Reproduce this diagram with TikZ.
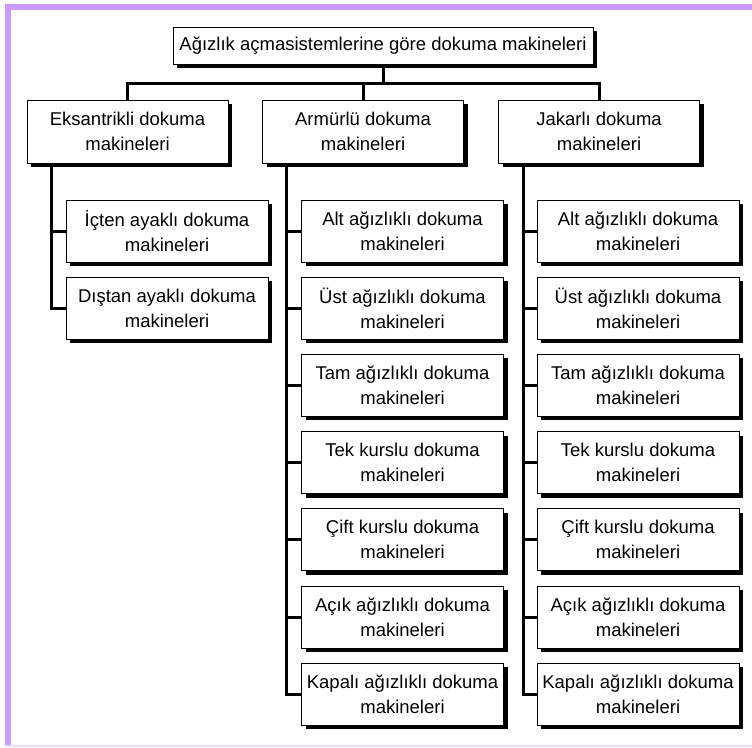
\documentclass[tikz,border=0pt]{standalone}
\usepackage{fontspec}
\setmainfont{Liberation Sans}
\usetikzlibrary{positioning,shadows}
\definecolor{framepurple}{RGB}{204,153,255}
\definecolor{framelight}{RGB}{236,220,255}
\tikzset{
	box/.style={draw, line width=1pt, fill=white, align=center, inner sep=0pt,
		font=\fontsize{18.5}{25}\selectfont,
		drop shadow={shadow xshift=4pt, shadow yshift=-4pt, fill=black, opacity=1}},
	catbox/.style={box, minimum width=201pt, minimum height=63pt},
	subbox/.style={box, minimum width=202pt, minimum height=62pt},
	link/.style={line width=3pt}
}
\begin{document}
\begin{tikzpicture}[x=1pt, y=-1pt]
	\useasboundingbox (0, 0) rectangle (752, 747);
	% frame
	\fill[framepurple] (5, 3.5) rectangle (752, 9.5);
	\fill[framepurple] (5, 3.5) rectangle (10.5, 746);
	\draw[framelight, line width=1.2pt] (5, 746) -- (752, 746);
	% boxes
	\node[box, minimum width=420pt, minimum height=37pt] (top) at (383, 45.5) {Ağızlık açmasistemlerine göre dokuma makineleri};
	\node[catbox] (eks) at (127.5, 131.5) {Eksantrikli dokuma\\makineleri};
	\node[catbox] (arm) at (363, 131.5) {Armürlü dokuma\\makineleri};
	\node[catbox] (jak) at (599, 131.5) {Jakarlı dokuma\\makineleri};
	\node[subbox] (eks1) at (167, 231) {İçten ayaklı dokuma\\makineleri};
	\node[subbox] (eks2) at (167, 308.2) {Dıştan ayaklı dokuma\\makineleri};
	\foreach \kind [count=\i] in {Alt ağızlıklı, Üst ağızlıklı, Tam ağızlıklı, Tek kurslu, Çift kurslu, Açık ağızlıklı, Kapalı ağızlıklı}{
		\node[subbox] (arm\i) at (402.5, {231 + 77.2*(\i-1)}) {\kind{} dokuma\\makineleri};
		\node[subbox] (jak\i) at (638, {231 + 77.2*(\i-1)}) {\kind{} dokuma\\makineleri};
	}
	% connectors
	\draw[link] (top.south) -- ++(0, 19) -| (eks.north);
	\draw[link] (top.south) ++(0, 19) -| (arm.north);
	\draw[link] (top.south) ++(0, 19) -| (jak.north);
	\foreach \i in {1, 2}
		\draw[link] ([xshift=25pt]eks.south west) |- (eks\i.west);
	\foreach \i in {1, ..., 7}{
		\draw[link] ([xshift=24pt]arm.south west) |- (arm\i.west);
		\draw[link] ([xshift=25pt]jak.south west) |- (jak\i.west);
	}
\end{tikzpicture}
\end{document}
